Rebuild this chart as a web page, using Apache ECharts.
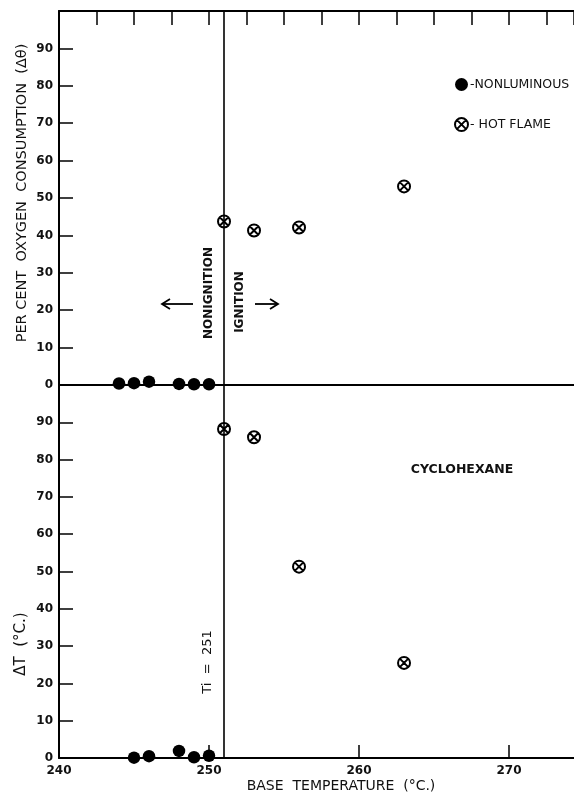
<!DOCTYPE html>
<html>
<head>
<meta charset="utf-8">
<script src="https://cdn.jsdelivr.net/npm/echarts@6/dist/echarts.min.js"></script>
<style>html,body{margin:0;padding:0;background:#fff;}#c{width:574px;height:795px;}</style>
</head>
<body>
<div id="c"></div>
<script>
// ---- data ----
const nonTopX = [244, 245, 246, 248, 249, 250];
const nonTopY = [0.4, 0.5, 0.9, 0.3, 0.2, 0.2];
const hotTopX = [251, 253, 256, 263];
const hotTopY = [43.7, 41.3, 42.1, 53.1];
const nonBotX = [245, 246, 248, 249, 250];
const nonBotY = [0.1, 0.5, 1.9, 0.2, 0.6];
const hotBotX = [251, 253, 256, 263];
const hotBotY = [88.2, 86.0, 51.3, 25.5];
const ignitionT = 251;
const xLabels = ['240', '250', '260', '270'];
const yLabels = ['0', '10', '20', '30', '40', '50', '60', '70', '80', '90'];
const seriesNames = ['NONLUMINOUS', 'HOT FLAME'];
const legendTexts = ['-NONLUMINOUS', '- HOT FLAME'];

const FONT = 'DejaVu Sans';
const zip = (a, b) => a.map((v, i) => [v, b[i]]);
const hotSymbol = 'path://M0,10A10,10,0,1,1,20,10A10,10,0,1,1,0,10ZM2.93,2.93L17.07,17.07M17.07,2.93L2.93,17.07';

const chart = echarts.init(document.getElementById('c'), null, {renderer: 'canvas'});
const axisLine = {show: true, lineStyle: {color: '#000', width: 2}};
const yLab = {
  show: true, color: '#111', fontFamily: FONT, fontWeight: 'bold', fontSize: 12, margin: 6,
  formatter: v => yLabels.includes(String(v)) ? String(v) : ''
};
const ln = {lineStyle: {color: '#000', width: 1.6, type: 'solid'}, label: {show: false}, symbol: 'none',
  silent: true, animation: false, emphasis: {disabled: true}};
const dotStyle = {color: '#000', opacity: 1};
const hotStyle = {color: '#fff', borderColor: '#000', borderWidth: 2, opacity: 1};

chart.setOption({
  animation: false,
  backgroundColor: '#fff',
  grid: [
    {left: 59, right: 0, top: 11, height: 374},
    {left: 59, right: 0, top: 385, height: 373}
  ],
  xAxis: [
    {gridIndex: 0, type: 'value', position: 'bottom', min: 240, max: 274.33, interval: 10,
     axisLine: axisLine, axisTick: {show: false}, axisLabel: {show: false}, splitLine: {show: false}},
    {gridIndex: 0, type: 'value', position: 'top', min: 240, max: 274.33, interval: 2.5,
     axisLine: axisLine, axisTick: {show: true, inside: true, length: 14, lineStyle: {color: '#000', width: 1.5}},
     axisLabel: {show: false}, splitLine: {show: false}},
    {gridIndex: 1, type: 'value', position: 'bottom', min: 240, max: 274.33, interval: 10,
     axisLine: axisLine, axisTick: {show: true, inside: true, length: 13, lineStyle: {color: '#000', width: 1.5}},
     axisLabel: {show: true, color: '#111', fontFamily: FONT, fontWeight: 'bold', fontSize: 12, margin: 7,
       showMaxLabel: false, formatter: v => xLabels.includes(String(v)) ? String(v) : ''},
     splitLine: {show: false}}
  ],
  yAxis: [
    {gridIndex: 0, type: 'value', min: 0, max: 100, interval: 10, axisLine: axisLine,
     axisTick: {show: true, inside: true, length: 14, lineStyle: {color: '#000', width: 1.5}},
     axisLabel: yLab, splitLine: {show: false}},
    {gridIndex: 1, type: 'value', min: 0, max: 100, interval: 10, axisLine: axisLine,
     axisTick: {show: true, inside: true, length: 14, lineStyle: {color: '#000', width: 1.5}},
     axisLabel: yLab, splitLine: {show: false}}
  ],
  legend: {
    orient: 'vertical', left: 449, top: 73, itemWidth: 13, itemHeight: 13, itemGap: 26,
    data: seriesNames, selectedMode: false,
    formatter: n => legendTexts[seriesNames.indexOf(n)],
    textStyle: {color: '#111', fontFamily: FONT, fontSize: 12.5, padding: [0, 0, 0, -3]}
  },
  series: [
    {name: seriesNames[0], type: 'scatter', xAxisIndex: 0, yAxisIndex: 0, data: zip(nonTopX, nonTopY),
     symbol: 'circle', symbolSize: 12.5, itemStyle: dotStyle},
    {name: seriesNames[1], type: 'scatter', xAxisIndex: 0, yAxisIndex: 0, data: zip(hotTopX, hotTopY),
     symbol: hotSymbol, symbolSize: 12, itemStyle: hotStyle, z: 3,
     markLine: Object.assign({data: [{xAxis: ignitionT}]}, ln)},
    {name: seriesNames[0], type: 'scatter', xAxisIndex: 2, yAxisIndex: 1, data: zip(nonBotX, nonBotY),
     symbol: 'circle', symbolSize: 12.5, itemStyle: dotStyle},
    {name: seriesNames[1], type: 'scatter', xAxisIndex: 2, yAxisIndex: 1, data: zip(hotBotX, hotBotY),
     symbol: hotSymbol, symbolSize: 12, itemStyle: hotStyle, z: 3,
     markLine: Object.assign({data: [{xAxis: ignitionT}]}, ln)}
  ],
  graphic: [
    {type: 'text', x: 22, y: 193, rotation: Math.PI / 2,
     style: {text: 'PER CENT  OXYGEN  CONSUMPTION  (Δθ)', fill: '#111', font: '14.5px "DejaVu Sans"', align: 'center', verticalAlign: 'middle'}},
    {type: 'text', x: 21, y: 644, rotation: Math.PI / 2,
     style: {text: 'ΔT  (°C.)', fill: '#111', font: '15px "DejaVu Sans"', align: 'center', verticalAlign: 'middle'}},
    {type: 'text', x: 341, y: 786,
     style: {text: 'BASE  TEMPERATURE  (°C.)', fill: '#111', font: '14px "DejaVu Sans"', align: 'center', verticalAlign: 'middle'}},
    {type: 'text', x: 462, y: 470,
     style: {text: 'CYCLOHEXANE', fill: '#111', font: 'bold 12.5px "DejaVu Sans"', align: 'center', verticalAlign: 'middle'}},
    {type: 'text', x: 209, y: 293, rotation: Math.PI / 2,
     style: {text: 'NONIGNITION', fill: '#111', font: 'bold 12px "DejaVu Sans"', align: 'center', verticalAlign: 'middle'}},
    {type: 'text', x: 240, y: 302, rotation: Math.PI / 2,
     style: {text: 'IGNITION', fill: '#111', font: 'bold 12px "DejaVu Sans"', align: 'center', verticalAlign: 'middle'}},
    {type: 'text', x: 208, y: 662, rotation: Math.PI / 2,
     style: {text: 'Ti  =  251', fill: '#111', font: '13px "DejaVu Sans"', align: 'center', verticalAlign: 'middle'}},
    {type: 'polyline', shape: {points: [[193, 304], [162, 304]]}, style: {stroke: '#000', lineWidth: 1.8}},
    {type: 'polyline', shape: {points: [[170, 299], [162, 304], [170, 309]]}, style: {stroke: '#000', lineWidth: 1.8, fill: null}},
    {type: 'polyline', shape: {points: [[255, 304], [278, 304]]}, style: {stroke: '#000', lineWidth: 1.8}},
    {type: 'polyline', shape: {points: [[270, 299], [278, 304], [270, 309]]}, style: {stroke: '#000', lineWidth: 1.8, fill: null}}
  ]
});
</script>
</body>
</html>
